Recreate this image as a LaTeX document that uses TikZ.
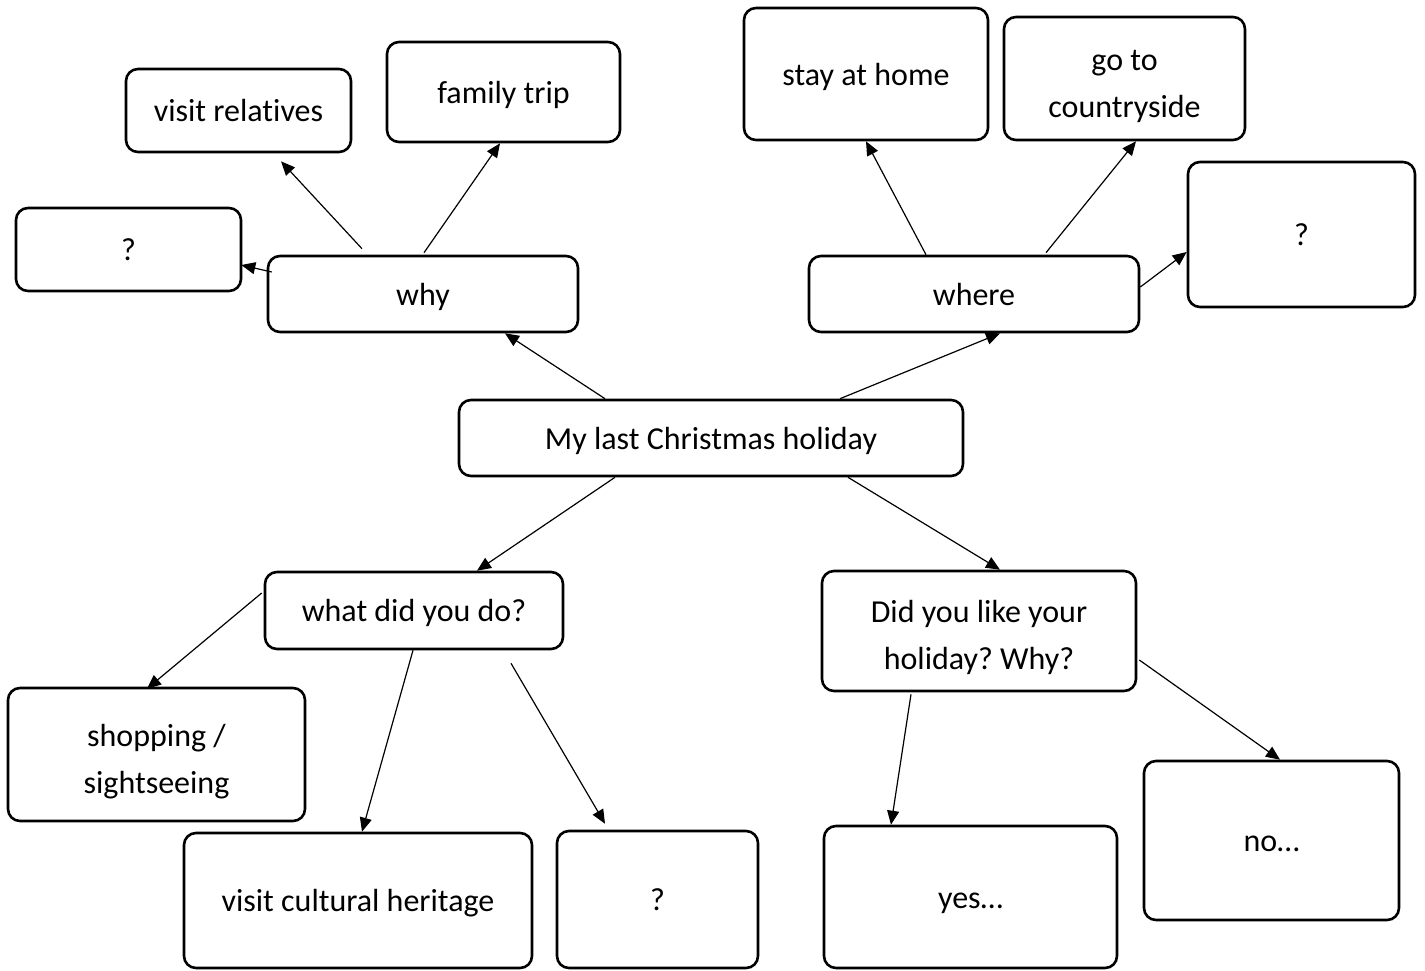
\documentclass[tikz,border=0pt]{standalone}
\usepackage{fontspec}
\setmainfont{Carlito}[Ligatures=NoCommon]
\usepackage{tikz}
\usetikzlibrary{arrows.meta,calc}
\frenchspacing
\newcommand{\boxstrut}{\rule[-5pt]{0pt}{21pt}}
\newcommand{\tallstrut}{\rule{0pt}{20pt}}

\begin{document}
\begin{tikzpicture}[
  x=0.5pt, y=-0.5pt,
  font=\fontsize{16}{23.5}\selectfont,
  box/.style={rectangle, rounded corners=6pt, draw=black, line width=1.3pt, align=center, inner sep=0pt,
    execute at begin node=\boxstrut, execute at end node=\boxstrut},
  arr/.style={-{Triangle[length=7pt,width=6pt]}, line width=0.6pt, black}
]
\useasboundingbox (0,0) rectangle (1425,970);
% top left group
\node[box, minimum width=112.5pt, minimum height=41.5pt] (rel) at (238.5,110.5) {visit relatives};
\node[box, minimum width=116.5pt, minimum height=50pt] (trip) at (503.5,92) {family trip};
\node[box, minimum width=112.5pt, minimum height=41.5pt] (qleft) at (128.5,249.5) {?};
\node[box, minimum width=155pt, minimum height=38pt] (why) at (423,294) {why};
% top right group
\node[box, minimum width=122pt, minimum height=66pt] (home) at (866,74) {stay at home};
\node[box, minimum width=120.5pt, minimum height=61.5pt] (country) at (1124.5,78.5) {\tallstrut go to\\countryside};
\node[box, minimum width=113.5pt, minimum height=72.5pt] (qright) at (1301.5,234.5) {?};
\node[box, minimum width=165pt, minimum height=38pt] (where) at (974,294) {where};
% centre
\node[box, minimum width=252pt, minimum height=38pt] (hol) at (711,438) {My last Christmas holiday};
% bottom left group
\node[box, minimum width=149pt, minimum height=38.5pt] (what) at (414,610.5) {what did you do?};
\node[box, minimum width=148.5pt, minimum height=66.5pt] (shop) at (156.5,754.5) {\tallstrut shopping /\\sightseeing};
\node[box, minimum width=174pt, minimum height=67.5pt] (herit) at (358,900.5) {visit cultural heritage};
\node[box, minimum width=100.5pt, minimum height=68.5pt] (qbot) at (657.5,899.5) {?};
% bottom right group
\node[box, minimum width=157pt, minimum height=60pt] (like) at (979,631) {\tallstrut Did you like your\\holiday? Why?};
\node[box, minimum width=146.5pt, minimum height=71pt] (yes) at (970.5,897) {yes…};
\node[box, minimum width=127.5pt, minimum height=79.5pt] (no) at (1271.5,840.5) {no…};

% centre to questions
\draw[arr] ($(hol.north)+(-106,0)$) -- ($(why.south)+(82,0)$);
\draw[arr] ($(hol.north)+(129,0)$) -- ($(where.south)+(26,0)$);
\draw[arr] ($(hol.south)+(-96,0)$) -- ($(what.north)+(63,0)$);
\draw[arr] ($(hol.south)+(137,0)$) -- ($(like.north)+(21,0)$);
% why
\draw[arr] ($(why.north)+(-61,-6)$) -- ($(rel.south)+(42.5,8)$);
\draw[arr] ($(why.north)+(1,-2)$) -- ($(trip.south)+(-3.5,0)$);
\draw[arr] ($(why.west)+(5,-22)$) -- ($(qleft.east)+(-1,15.5)$);
% where
\draw[arr] ($(where.north)+(-48,0)$) -- (home.south);
\draw[arr] ($(where.north)+(72,-2)$) -- ($(country.south)+(11.5,0)$);
\draw[arr] ($(where.east)+(0,-7)$) -- ($(qright.west)+(0,17.5)$);
% what did you do
\draw[arr] ($(what.west)+(-2,-17.5)$) -- ($(shop.north)+(-9.5,2)$);
\draw[arr] ($(what.south)+(-1,0)$) -- ($(herit.north)+(4,0)$);
\draw[arr] ($(what.south)+(97,13)$) -- ($(qbot.north)+(-52.5,-6)$);
% did you like
\draw[arr] ($(like.south)+(-68,2)$) -- ($(yes.north)+(-79.5,0)$);
\draw[arr] ($(like.east)+(2,29)$) -- ($(no.north)+(8.5,0)$);
\end{tikzpicture}
\end{document}
